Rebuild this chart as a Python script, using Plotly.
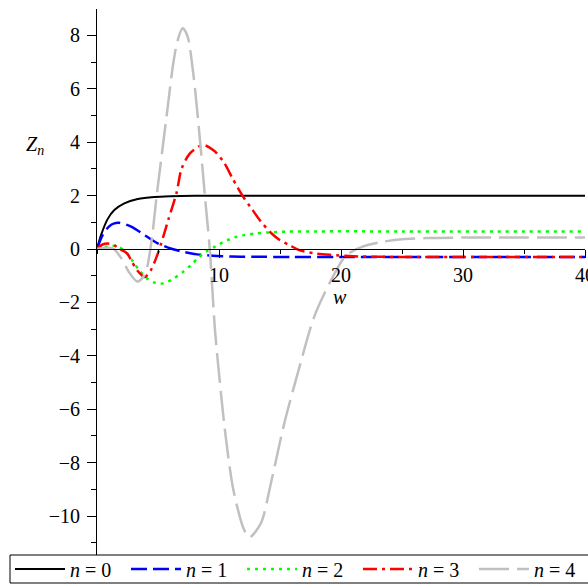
import plotly.graph_objects as go

# ---- data ----
w0 = [0, 0.33, 0.87, 1.42, 2.24, 3.34, 4.7, 6, 8, 10, 20, 30, 40]
z0 = [0, 0.52, 1.12, 1.46, 1.71, 1.87, 1.95, 1.98, 2.0, 2.0, 2.0, 2.0, 2.0]

w1 = [0, 0.46, 1.0, 1.42, 1.82, 2.8, 3.9, 4.98, 6.25, 7.2, 8.2, 9.5, 11, 13, 16, 20, 30, 40]
z1 = [0, 0.52, 0.85, 0.96, 0.98, 0.84, 0.52, 0.21, -0.01, -0.12, -0.2, -0.25, -0.28, -0.29, -0.3, -0.3, -0.3, -0.3]

w2 = [0, 0.6, 1.2, 1.73, 2.41, 2.96, 3.45, 4.0, 4.6, 5.2, 5.8, 6.3, 7.07, 7.7, 8.3, 9.0, 9.73, 10.4, 11.37, 12.1, 13.0, 14.0, 15.6, 18, 25, 40]
z2 = [0, 0.07, 0.12, 0.1, -0.14, -0.47, -0.79, -1.07, -1.24, -1.3, -1.22, -1.1, -0.85, -0.6, -0.33, -0.08, 0.1, 0.27, 0.45, 0.52, 0.58, 0.62, 0.65, 0.66, 0.66, 0.66]

w3 = [0, 0.46, 1.0, 1.5, 1.86, 2.46, 2.8, 3.3, 3.9, 4.4, 4.88, 5.43, 5.84, 6.52, 6.93, 7.62, 8.66, 9.6, 10.45, 11.1, 12.06, 12.6, 13.4, 14.25, 15.0, 15.76, 16.58, 17.81, 19.19, 21, 23, 26, 30, 40]
z3 = [0, 0.17, 0.2, 0.12, 0.0, -0.16, -0.42, -0.8, -1.05, -0.8, -0.3, 0.46, 1.09, 2.1, 3.0, 3.58, 3.9, 3.68, 3.21, 2.65, 1.9, 1.56, 1.05, 0.61, 0.33, 0.15, -0.04, -0.16, -0.22, -0.27, -0.29, -0.3, -0.3, -0.3]

w4 = [0, 0.5, 1.0, 1.37, 2.0, 2.6, 3.29, 3.7, 4.05, 4.5, 4.88, 5.3, 5.7, 6.25, 6.6, 7.01, 7.4, 7.89, 8.44, 8.85, 9.26, 9.67, 10.08, 10.55, 11.18, 12.06, 12.5, 13.43, 14.25, 15.35, 16.45, 17.81, 19.19, 20.3, 21.1, 22.2, 23.4, 25, 27, 30, 40]
z4 = [0, 0.04, 0.05, 0.0, -0.35, -0.85, -1.22, -1.1, -0.79, 0.4, 1.96, 3.5, 4.96, 6.95, 7.8, 8.27, 8.0, 6.58, 4.08, 1.96, -0.1, -3.03, -5.03, -7.03, -9.03, -10.52, -10.8, -10.27, -8.78, -6.53, -4.66, -2.53, -1.16, -0.3, -0.04, 0.15, 0.27, 0.37, 0.41, 0.43, 0.43]

labels = ["<i>n</i> = 0", "<i>n</i> = 1", "<i>n</i> = 2", "<i>n</i> = 3", "<i>n</i> = 4"]
colors = ["#000000", "#0000ff", "#00ff00", "#ff0000", "#c0c0c0"]
dashes = ["solid", "16px,6px", "3px,5px", "14px,5px,3px,5px", "30px,8px"]
widths = [2, 2.5, 2.5, 2.5, 2.5]

xticks = [10, 20, 30, 40]
yticks = [-10, -8, -6, -4, -2, 0, 2, 4, 6, 8]

series = [(w0, z0), (w1, z1), (w2, z2), (w3, z3), (w4, z4)]

FONT = "Liberation Serif, Times New Roman, Times, serif"
FS = 20

fig = go.Figure()
for (wx, zy), lab, col, da, lw in zip(series, labels, colors, dashes, widths):
    fig.add_trace(go.Scatter(x=wx, y=zy, mode="lines", name=lab,
                             line=dict(color=col, dash=da, width=lw, shape="spline", smoothing=0.8)))

ymin, ymax = -11.46, 8.99
PW, PH, ML, MB = 488, 546, 97, 30
fig.update_layout(
    width=588, height=585,
    margin=dict(l=ML, r=3, t=9, b=MB, autoexpand=False),
    paper_bgcolor="white", plot_bgcolor="white",
    font=dict(family=FONT, size=FS, color="black"),
    xaxis=dict(range=[0, 40], showgrid=False, zeroline=False, showline=True,
               linecolor="black", linewidth=1, ticks="outside", ticklen=8,
               tickcolor="black", tickvals=xticks, anchor="free",
               position=(0 - ymin) / (ymax - ymin), ticklabeloverflow="allow",
               minor=dict(ticks="outside", ticklen=4, dtick=5, tick0=0, tickcolor="black"),
               tickfont=dict(family=FONT, size=FS)),
    yaxis=dict(range=[ymin, ymax], showgrid=False, zeroline=False, showline=True,
               linecolor="black", linewidth=1, ticks="outside", ticklen=9,
               tickcolor="black", tickvals=yticks, ticklabelstandoff=3,
               minor=dict(ticks="outside", ticklen=5, dtick=1, tick0=1, tickcolor="black"),
               tickfont=dict(family=FONT, size=FS)),
    legend=dict(orientation="h", x=(10 - ML) / PW, xanchor="left",
                y=(555 - 569) / PH, yanchor="middle",
                borderwidth=0, bgcolor="rgba(0,0,0,0)",
                font=dict(family=FONT, size=FS), entrywidth=51, entrywidthmode="pixels",
                itemwidth=50, tracegroupgap=0),
    shapes=[dict(type="rect", xref="paper", yref="paper",
                 x0=(10 - ML) / PW, x1=(600 - ML) / PW,
                 y0=(555 - 583) / PH, y1=0,
                 line=dict(color="black", width=1), fillcolor="rgba(0,0,0,0)")],
    annotations=[
        dict(text="<i>Z<sub>n</sub></i>", x=(24 - ML) / PW, y=(555 - 131) / PH,
             xref="paper", yref="paper", showarrow=False, font=dict(family=FONT, size=FS)),
        dict(text="<i>w</i>", x=(340 - ML) / PW, y=(555 - 297) / PH,
             xref="paper", yref="paper", showarrow=False, font=dict(family=FONT, size=FS)),
    ],
)

fig.write_html("out.html", config={"displayModeBar": False},
               post_script="document.body.style.margin='0px';")
